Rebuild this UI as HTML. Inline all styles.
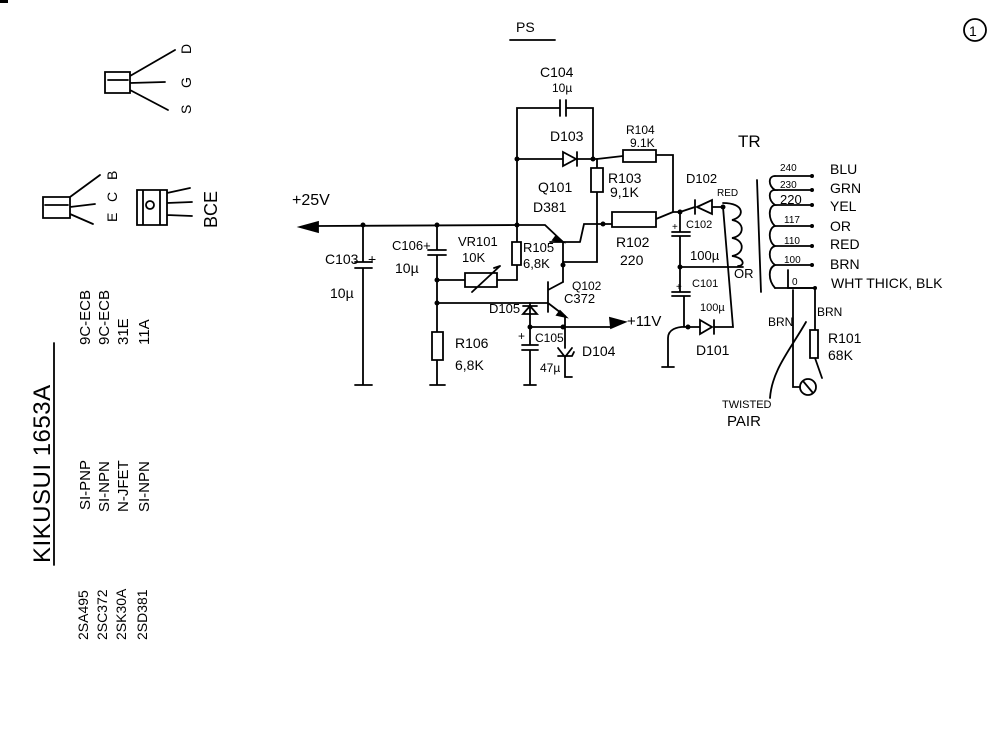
<!DOCTYPE html>
<html><head><meta charset="utf-8"><style>
html,body{margin:0;padding:0;background:#fff;}
svg{display:block}
text{font-family:"Liberation Sans",sans-serif;fill:#000;}
</style></head><body>
<svg width="1001" height="753" viewBox="0 0 1001 753" xmlns="http://www.w3.org/2000/svg">
<g stroke="#000" stroke-width="1.8" fill="none" stroke-linecap="round">
<path d="M318 226 L517 225"/>
<path d="M300 227 L318 222 L318 232 Z" fill="#000"/>
<path d="M363 225 V262 M355 262 H372 M355 268 H372 M363 268 V385 M355 385 H372"/>
<path d="M437 225 V250 M428 250 H446 M428 255 H446 M437 255 V332 M432 332 H443 V360 H432 Z M437 360 V385 M430 385 H445"/>
<path d="M437 280 H465 M465 273 H497 V287 H465 Z M497 280 H517 M472 292 L500 266 M500 266 L494 268"/>
<path d="M517 225 V242 M512 242 H521 V265 H512 Z M517 265 V280"/>
<path d="M517 225 V108 H560 M566 108 H593 V159 M560 100 V116 M566 100 V116"/>
<path d="M517 159 H563 M563 152 L576 159 L563 166 Z M577 152 V166 M577 159 H597"/>
<path d="M597 159 V168 M591 168 H603 V192 H591 Z M597 192 V262 H563"/>
<path d="M597 159 L623 156 M623 150 H656 V162 H623 Z M656 155 H673 V212"/>
<path d="M517 225 H545 L563 242 M550 242 H580 M580 242 L584 224 H603 M563 242 V282"/>
<path d="M556 236 L563 242 L553 240 Z" fill="#000"/>
<path d="M603 224 H612 M612 212 H656 V227 H612 Z M656 219 L673 212"/>
<path d="M548 282 V312 M548 290 L563 282 M548 303 L565 316 V327 M437 303 H548"/>
<path d="M560 311 L566 317 L557 315 Z" fill="#000"/>
<path d="M563 327 H612"/>
<path d="M625 322 L610 318 L611 328 Z" fill="#000"/>
<path d="M530 303 V327 M523 306 H537 M523 314 L530 306 L537 314 Z M530 327 H563 M530 327 V345 M522 345 H538 M522 350 H538 M530 350 V385 M524 385 H536"/>
<path d="M565 327 V348 M558 348 L565 357 L572 348 M558 356 H572 L574 352 M565 357 V377 L572 377"/>
<path d="M673 212 H680 V232 M672 232 H690 M672 236 H690 M680 236 V292 M672 292 H690 M672 296 H690 M684 296 V327 M680 267 H743"/>
<path d="M680 212 L695 207 M695 200 V214 M697 207 L712 200 V214 Z M712 207 H723"/>
<path d="M688 327 H700 M700 320 L712 327 L700 334 Z M714 320 V334 M714 327 H733 L723 207"/>
<path d="M688 327 C676 326 668 330 668 338 V367 M662 367 H674"/>
<path d="M723 203 C745 203 745 217 732 220 C745 222 745 236 732 238 C745 240 745 254 732 256 C745 258 745 266 738 266"/>
<path d="M757 180 L761 292"/>
<path d="M775 176 C768 176 768 186 775 190 C768 190 768 200 775 205 C768 206 768 220 775 226 C768 228 768 242 775 246 C768 248 768 260 775 265 C768 268 768 280 775 288"/>
<path d="M775 176 H812 M775 190 H812 M775 205 H812 M775 226 H812 M775 246 H812 M775 265 H812 M775 288 H815"/>
<path d="M788 270 V288 H815"/>
<path d="M793 290 V387 H800 M815 288 V330 M810 330 H818 V358 H810 Z M815 358 L822 378"/>
<circle cx="808" cy="387" r="8"/>
<path d="M803 381 L813 393"/>
<path d="M806 322 C790 350 772 370 770 398"/>
<path d="M510 40 H555"/>
<circle cx="975" cy="30" r="11"/>
<path d="M105 72 H130 V93 H105 Z M108 80 H128 M130 76 L175 50 M130 83 L165 82 M130 90 L168 110"/>
<path d="M43 197 H70 V218 H43 Z M45 205 H68 M70 197 L100 175 M70 207 L95 204 M70 214 L93 224"/>
<path d="M137 190 H167 V225 H137 Z M143 190 V225 M160 190 V225 M167 193 L190 188 M167 203 L192 202 M167 215 L192 216"/>
<circle cx="150" cy="205" r="4"/>
<path d="M54 343 V565"/>
</g>
<g fill="#000">
<circle cx="363" cy="225" r="2.5"/><circle cx="437" cy="225" r="2.5"/><circle cx="517" cy="225" r="2.5"/>
<circle cx="437" cy="280" r="2.5"/><circle cx="437" cy="303" r="2.5"/><circle cx="517" cy="159" r="2.5"/>
<circle cx="593" cy="159" r="2.5"/><circle cx="603" cy="224" r="2.5"/><circle cx="563" cy="265" r="2.5"/>
<circle cx="530" cy="327" r="2.5"/><circle cx="563" cy="327" r="2.5"/><circle cx="680" cy="212" r="2.5"/>
<circle cx="680" cy="267" r="2.5"/><circle cx="688" cy="327" r="2.5"/><circle cx="723" cy="207" r="2.5"/>
<circle cx="812" cy="176" r="2"/><circle cx="812" cy="190" r="2"/><circle cx="812" cy="205" r="2"/>
<circle cx="812" cy="226" r="2"/><circle cx="812" cy="246" r="2"/><circle cx="812" cy="265" r="2"/><circle cx="815" cy="288" r="2"/>
</g>
<g font-size="14">
<text x="516" y="32">PS</text>
<text x="969" y="36">1</text>
<text x="292" y="205" font-size="16">+25V</text>
<text x="540" y="77">C104</text><text x="552" y="92" font-size="12">10µ</text>
<text x="550" y="141">D103</text>
<text x="626" y="134" font-size="12">R104</text><text x="630" y="147" font-size="12">9.1K</text>
<text x="608" y="183">R103</text><text x="610" y="197">9,1K</text>
<text x="538" y="192">Q101</text><text x="533" y="212">D381</text>
<text x="616" y="247">R102</text><text x="620" y="265">220</text>
<text x="325" y="264">C103</text><text x="368" y="264">+</text><text x="330" y="298">10µ</text>
<text x="392" y="250" font-size="13">C106+</text><text x="395" y="273">10µ</text>
<text x="458" y="246" font-size="13">VR101</text><text x="462" y="262" font-size="13">10K</text>
<text x="523" y="252" font-size="13">R105</text><text x="523" y="268" font-size="13">6,8K</text>
<text x="572" y="290" font-size="12">Q102</text><text x="564" y="303" font-size="13">C372</text>
<text x="489" y="313" font-size="13">D105</text>
<text x="535" y="342" font-size="12">C105</text><text x="518" y="340" font-size="12">+</text>
<text x="540" y="372" font-size="12">47µ</text>
<text x="582" y="356">D104</text>
<text x="627" y="326" font-size="15">+11V</text>
<text x="455" y="348">R106</text><text x="455" y="370">6,8K</text>
<text x="686" y="183" font-size="13">D102</text><text x="717" y="196" font-size="10">RED</text>
<text x="686" y="228" font-size="11">C102</text><text x="672" y="230" font-size="10">+</text>
<text x="690" y="260" font-size="13">100µ</text>
<text x="692" y="287" font-size="11">C101</text><text x="676" y="290" font-size="10">+</text>
<text x="734" y="278" font-size="13">OR</text>
<text x="700" y="311" font-size="11">100µ</text>
<text x="696" y="355" font-size="14">D101</text>
<text x="738" y="147" font-size="17">TR</text>
<text x="780" y="171" font-size="10">240</text><text x="780" y="188" font-size="10">230</text>
<text x="780" y="204" font-size="13">220</text><text x="784" y="223" font-size="10">117</text>
<text x="784" y="244" font-size="10">110</text><text x="784" y="263" font-size="10">100</text>
<text x="792" y="285" font-size="10">0</text>
<text x="830" y="174">BLU</text><text x="830" y="193">GRN</text><text x="830" y="211">YEL</text>
<text x="830" y="231">OR</text><text x="830" y="249">RED</text><text x="830" y="269">BRN</text>
<text x="831" y="288">WHT THICK, BLK</text>
<text x="768" y="326" font-size="12">BRN</text><text x="817" y="316" font-size="12">BRN</text>
<text x="828" y="343">R101</text><text x="828" y="360">68K</text>
<text x="722" y="408" font-size="11">TWISTED</text><text x="727" y="426" font-size="15">PAIR</text>
</g>
<g font-size="14">
<text transform="translate(191,54) rotate(-90)">D</text>
<text transform="translate(191,88) rotate(-90)">G</text>
<text transform="translate(191,114) rotate(-90)">S</text>
<text transform="translate(117,180) rotate(-90)">B</text>
<text transform="translate(117,202) rotate(-90)">C</text>
<text transform="translate(117,222) rotate(-90)">E</text>
<text transform="translate(217,228) rotate(-90)" font-size="18">BCE</text>
<text transform="translate(50,563) rotate(-90)" font-size="24" letter-spacing="0.5">KIKUSUI 1653A</text>
<text transform="translate(88,640) rotate(-90)">2SA495</text>
<text transform="translate(107,640) rotate(-90)">2SC372</text>
<text transform="translate(126,640) rotate(-90)">2SK30A</text>
<text transform="translate(147,640) rotate(-90)">2SD381</text>
<text transform="translate(90,510) rotate(-90)" font-size="15">SI-PNP</text>
<text transform="translate(109,512) rotate(-90)" font-size="15">SI-NPN</text>
<text transform="translate(128,512) rotate(-90)" font-size="15">N-JFET</text>
<text transform="translate(149,512) rotate(-90)" font-size="15">SI-NPN</text>
<text transform="translate(90,345) rotate(-90)" font-size="15">9C-ECB</text>
<text transform="translate(109,345) rotate(-90)" font-size="15">9C-ECB</text>
<text transform="translate(128,345) rotate(-90)" font-size="15">31E</text>
<text transform="translate(149,345) rotate(-90)" font-size="15">11A</text>
</g>
<rect x="0" y="0" width="8" height="3" fill="#000"/>
</svg>
</body></html>
